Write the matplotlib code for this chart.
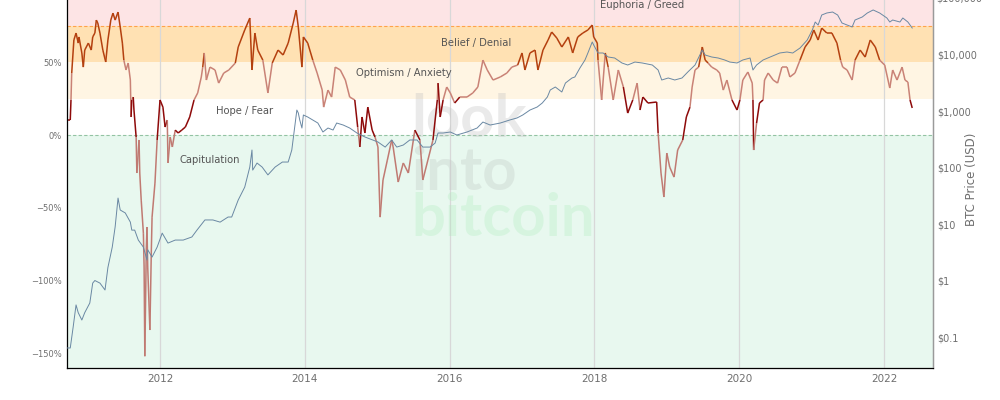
import numpy as np
import matplotlib
matplotlib.use('Agg')
import matplotlib.pyplot as plt
from matplotlib.collections import LineCollection

# NUPL (%); dates as decimal years
nupl_year = [2010.72, 2010.76, 2010.77, 2010.78, 2010.81, 2010.84, 2010.87, 2010.88, 2010.92, 2010.94,
             2010.96, 2011.01, 2011.05, 2011.07, 2011.10, 2011.12, 2011.14, 2011.17, 2011.21, 2011.25,
             2011.28, 2011.32, 2011.35, 2011.38, 2011.42, 2011.45, 2011.48, 2011.50, 2011.53, 2011.56,
             2011.59, 2011.60, 2011.61, 2011.63, 2011.64, 2011.67, 2011.68, 2011.71, 2011.72, 2011.74,
             2011.77, 2011.78, 2011.79, 2011.81, 2011.82, 2011.83, 2011.86, 2011.88, 2011.89, 2011.93,
             2011.96, 2012.00, 2012.04, 2012.07, 2012.10, 2012.11, 2012.14, 2012.17, 2012.21, 2012.25,
             2012.30, 2012.35, 2012.41, 2012.47, 2012.52, 2012.57, 2012.59, 2012.61, 2012.64, 2012.69,
             2012.76, 2012.81, 2012.88, 2012.95, 2013.04, 2013.08, 2013.17, 2013.24, 2013.27, 2013.31,
             2013.35, 2013.42, 2013.49, 2013.55, 2013.63, 2013.70, 2013.77, 2013.84, 2013.88, 2013.91,
             2013.96, 2013.98, 2014.04, 2014.11, 2014.17, 2014.24, 2014.26, 2014.32, 2014.37, 2014.42,
             2014.49, 2014.56, 2014.62, 2014.69, 2014.73, 2014.76, 2014.79, 2014.83, 2014.87, 2014.93,
             2014.97, 2015.01, 2015.04, 2015.08, 2015.14, 2015.20, 2015.22, 2015.29, 2015.36, 2015.43,
             2015.52, 2015.59, 2015.63, 2015.70, 2015.77, 2015.83, 2015.84, 2015.87, 2015.91, 2015.96,
             2016.01, 2016.07, 2016.14, 2016.24, 2016.32, 2016.39, 2016.46, 2016.52, 2016.60, 2016.70,
             2016.79, 2016.86, 2016.94, 2017.00, 2017.04, 2017.11, 2017.18, 2017.22, 2017.29, 2017.36,
             2017.41, 2017.48, 2017.55, 2017.64, 2017.70, 2017.77, 2017.84, 2017.91, 2017.97, 2017.99,
             2018.04, 2018.05, 2018.10, 2018.15, 2018.19, 2018.26, 2018.33, 2018.40, 2018.46, 2018.53,
             2018.59, 2018.63, 2018.67, 2018.74, 2018.86, 2018.88, 2018.92, 2018.96, 2019.00, 2019.04,
             2019.10, 2019.15, 2019.22, 2019.27, 2019.32, 2019.35, 2019.39, 2019.44, 2019.49, 2019.53,
             2019.57, 2019.62, 2019.69, 2019.73, 2019.78, 2019.83, 2019.90, 2019.97, 2020.01, 2020.05,
             2020.12, 2020.18, 2020.19, 2020.20, 2020.24, 2020.28, 2020.33, 2020.35, 2020.40, 2020.47,
             2020.53, 2020.59, 2020.66, 2020.70, 2020.77, 2020.84, 2020.91, 2020.98, 2021.03, 2021.09,
             2021.14, 2021.21, 2021.28, 2021.35, 2021.40, 2021.43, 2021.49, 2021.56, 2021.60, 2021.67,
             2021.74, 2021.81, 2021.88, 2021.94, 2022.01, 2022.08, 2022.12, 2022.18, 2022.25, 2022.29,
             2022.33, 2022.36, 2022.39]
nupl_pct = [10.3, 10.3, 24.1, 42.6, 65.3, 70.1, 63.2, 67.4, 56.4, 46.7,
            58.4, 63.2, 58.4, 67.4, 70.1, 79.0, 77.0, 70.1, 58.4, 50.2,
            65.3, 79.0, 83.8, 79.0, 84.5, 74.2, 63.2, 51.5, 44.7, 49.5,
            37.8, 12.4, 24.1, 26.1, 17.2, -1.4, -26.1, -3.4, -26.1, -44.7,
            -67.4, -90.7, -152.0, -79.0, -63.2, -90.7, -134.0, -79.0, -56.4, -33.0,
            -3.4, 24.1, 19.2, 5.5, 10.3, -19.2, -1.4, -8.2, 3.4, 1.4,
            3.4, 5.5, 12.4, 24.1, 28.9, 39.9, 46.7, 56.4, 37.8, 46.7,
            44.7, 35.7, 42.6, 44.7, 49.5, 60.5, 72.2, 80.4, 44.7, 70.1,
            58.4, 51.5, 28.9, 49.5, 58.4, 55.0, 63.2, 77.0, 85.9, 74.2,
            46.7, 67.4, 63.2, 51.5, 42.6, 30.9, 19.2, 30.9, 26.1, 46.7,
            44.7, 37.8, 26.1, 24.1, 5.5, -8.2, 12.4, 1.4, 19.2, 3.4,
            -1.4, -8.2, -56.4, -30.9, -17.2, -3.4, -8.2, -32.3, -19.2, -26.1,
            3.4, -3.4, -30.9, -17.2, -3.4, 24.1, 35.7, 12.4, 24.1, 33.0,
            28.9, 22.0, 26.1, 26.1, 28.9, 33.0, 51.5, 44.7, 37.8, 39.9,
            42.6, 46.7, 48.1, 56.4, 44.7, 56.4, 58.4, 44.7, 58.4, 65.3,
            70.8, 66.7, 60.5, 67.4, 56.4, 67.4, 70.1, 72.2, 75.6, 67.4,
            63.2, 51.5, 24.1, 56.4, 46.7, 24.1, 44.7, 33.0, 15.1, 24.1,
            35.7, 17.2, 26.1, 22.0, 22.7, 1.4, -26.1, -42.6, -12.4, -22.0,
            -28.9, -10.3, -3.4, 12.4, 19.2, 33.0, 44.7, 46.7, 60.5, 51.5,
            49.5, 46.7, 44.7, 42.6, 30.9, 37.8, 24.1, 17.2, 24.1, 37.8,
            43.3, 35.7, 24.1, -10.3, 8.2, 22.0, 24.1, 37.8, 42.6, 37.8,
            35.7, 46.7, 46.7, 39.9, 42.6, 51.5, 60.5, 65.3, 72.2, 65.3,
            73.5, 70.1, 70.1, 63.2, 51.5, 46.7, 44.7, 37.8, 51.5, 58.4,
            53.6, 65.3, 60.5, 51.5, 48.1, 32.3, 44.7, 37.8, 46.7, 37.8,
            36.4, 24.1, 18.6]

# BTC price (USD)
price_year = [2010.72, 2010.76, 2010.80, 2010.84, 2010.87, 2010.92, 2010.96, 2011.03, 2011.07, 2011.10,
              2011.17, 2011.24, 2011.28, 2011.34, 2011.38, 2011.42, 2011.45, 2011.52, 2011.59, 2011.61,
              2011.65, 2011.70, 2011.77, 2011.82, 2011.83, 2011.89, 2011.96, 2012.03, 2012.11, 2012.21,
              2012.32, 2012.44, 2012.51, 2012.62, 2012.73, 2012.83, 2012.94, 2012.99, 2013.08, 2013.17,
              2013.24, 2013.27, 2013.28, 2013.34, 2013.41, 2013.49, 2013.59, 2013.69, 2013.77, 2013.82,
              2013.85, 2013.89, 2013.91, 2013.93, 2013.96, 2013.98, 2014.04, 2014.11, 2014.18, 2014.25,
              2014.32, 2014.39, 2014.44, 2014.53, 2014.62, 2014.72, 2014.83, 2014.94, 2015.01, 2015.11,
              2015.20, 2015.27, 2015.36, 2015.45, 2015.55, 2015.63, 2015.73, 2015.80, 2015.84, 2015.91,
              2016.01, 2016.10, 2016.24, 2016.38, 2016.46, 2016.56, 2016.70, 2016.83, 2016.93, 2017.01,
              2017.11, 2017.21, 2017.28, 2017.35, 2017.39, 2017.46, 2017.55, 2017.60, 2017.69, 2017.73,
              2017.80, 2017.87, 2017.91, 2017.97, 2017.99, 2018.05, 2018.12, 2018.19, 2018.28, 2018.38,
              2018.46, 2018.56, 2018.66, 2018.80, 2018.88, 2018.93, 2019.02, 2019.11, 2019.21, 2019.29,
              2019.39, 2019.49, 2019.53, 2019.62, 2019.71, 2019.80, 2019.87, 2019.97, 2020.05, 2020.15,
              2020.19, 2020.24, 2020.33, 2020.43, 2020.56, 2020.66, 2020.74, 2020.84, 2020.94, 2021.01,
              2021.05, 2021.09, 2021.14, 2021.21, 2021.29, 2021.36, 2021.42, 2021.49, 2021.56, 2021.60,
              2021.70, 2021.77, 2021.85, 2021.94, 2022.04, 2022.08, 2022.12, 2022.22, 2022.26, 2022.33,
              2022.39]
price_usd = [0.064, 0.064, 0.15, 0.37, 0.27, 0.20, 0.27, 0.40, 0.90, 1.0,
             0.90, 0.68, 1.7, 3.9, 8.9, 28.8, 17.7, 15.7, 10.8, 7.8,
             7.8, 5.2, 3.9, 2.3, 3.5, 2.6, 3.9, 6.9, 4.6, 5.2,
             5.2, 5.9, 7.8, 11.8, 11.8, 10.8, 13.3, 13.3, 26.6, 45,
             102, 204, 90, 120, 102, 74, 102, 125, 125, 204,
             408, 1041, 922, 693, 500, 850, 783, 693, 613, 425,
             500, 461, 613, 565, 500, 408, 347, 307, 283, 230,
             307, 230, 250, 307, 307, 230, 230, 271, 408, 408,
             425, 376, 425, 500, 638, 565, 613, 693, 752, 850,
             1041, 1178, 1386, 1770, 2355, 2660, 2170, 3130, 3840, 4000,
             5770, 8000, 10640, 16650, 14730, 10640, 10640, 9040, 8670, 7080,
             6520, 7360, 7080, 6520, 5320, 3540, 3840, 3540, 3840, 4900,
             6520, 12020, 9800, 9040, 8670, 8000, 7360, 7080, 8000, 8670,
             5320, 6520, 8000, 9040, 10640, 11070, 10640, 13030, 18070, 27150,
             37600, 33230, 50000, 54300, 56500, 50000, 36100, 33230, 30700, 40800,
             46150, 54300, 61400, 54300, 44300, 37600, 40800, 37600, 44300, 37600,
             29450]

zone_labels = ['Euphoria / Greed', 'Belief / Denial', 'Optimism / Anxiety', 'Hope / Fear', 'Capitulation']
zone_label_year = [2018.66, 2016.36, 2015.37, 2013.17, 2012.69]
zone_label_pct = [89.3, 63.2, 42.6, 16.5, -17.2]

year_ticks = [2012, 2014, 2016, 2018, 2020, 2022]
pct_ticks = [50, 0, -50, -100, -150]
price_ticks = [0.1, 1, 10, 100, 1000, 10000]
price_tick_labels = ['$0.1', '$1', '$10', '$100', '$1,000', '$10,000']

grey = '#6f6f6f'
fig = plt.figure(figsize=(10, 4), dpi=100)
ax = fig.add_axes([0.067, 0.08, 0.866, 0.92])
ax.set_xlim(2010.715, 2022.677)
ax.set_ylim(-160.1, 92.8)

# background zones
ax.axhspan(75, 200, color='#fde4e5', lw=0, zorder=0)
ax.axhspan(50, 75, color='#ffe1b3', lw=0, zorder=0)
ax.axhspan(25, 50, color='#fff5e3', lw=0, zorder=0)
ax.axhspan(-200, 0, color='#e8f8ef', lw=0, zorder=0)
ax.axhline(75, color='#ffa24a', lw=0.8, ls=(0, (3, 2)), zorder=1)
ax.axhline(0, color='#93c3a3', lw=0.8, ls=(0, (3, 2)), zorder=1)
for yr in year_ticks:
    ax.axvline(yr, color='#d8d8d8', lw=0.9, zorder=1)

# watermark
wm = dict(fontsize=43, fontweight='bold', family=['Lato', 'DejaVu Sans'], ha='left',
          va='baseline', zorder=1)
ax.text(2015.47, -1.4, 'look', color='#c0c0c0', alpha=0.33, **wm)
ax.text(2015.47, -37.8, 'into', color='#c0c8c4', alpha=0.33, **wm)
ax.text(2015.47, -69.4, 'bitcoin', color='#a8ecb8', alpha=0.28, **wm)

for lab, xx, yy in zip(zone_labels, zone_label_year, zone_label_pct):
    ax.text(xx, yy, lab, ha='center', va='center', fontsize=7.2, color='#555555', zorder=2)

# NUPL line coloured by zone
xs = np.array(nupl_year)
ys = np.array(nupl_pct)
segs = np.stack([np.column_stack([xs[:-1], ys[:-1]]), np.column_stack([xs[1:], ys[1:]])], axis=1)
mid = (ys[:-1] + ys[1:]) / 2
cols = []
for m in mid:
    if m >= 50:
        cols.append('#b4400f')
    elif m >= 25:
        cols.append('#c98276')
    elif m >= 0:
        cols.append('#8e0a0a')
    else:
        cols.append('#c07a72')
ax.add_collection(LineCollection(segs, colors=cols, linewidths=1.1, zorder=3))

ax.set_xticks(year_ticks)
ax.set_xticklabels([str(y) for y in year_ticks], fontsize=7.5, color=grey,
                   family=['Liberation Sans Narrow', 'DejaVu Sans'])
ax.set_yticks(pct_ticks)
ax.set_yticklabels([f'{p}%'.replace('-', '\u2212') for p in pct_ticks], fontsize=6, color=grey)
ax.tick_params(length=0, pad=4)
ax.spines['top'].set_visible(False)
for s in ['left', 'bottom', 'right']:
    ax.spines[s].set_color('#9a9a9a')
    ax.spines[s].set_linewidth(1)

# price on log right axis
ax2 = ax.twinx()
ax2.set_yscale('log')
ax2.set_ylim(0.0283, 92200)
ax2.plot(price_year, price_usd, color='#6a88a3', lw=0.7, zorder=4)
ax2.set_yticks(price_ticks)
ax2.set_yticklabels(price_tick_labels, fontsize=7, color=grey)
ax2.minorticks_off()
ax2.tick_params(length=0, pad=3)
ax2.spines['top'].set_visible(False)
ax2.spines['right'].set_color('#9a9a9a')
ax2.text(1.044, 0.514, 'BTC Price (USD)', transform=ax2.transAxes, rotation=90,
         fontsize=8.5, color=grey, ha='center', va='center')
ax2.text(1.0035, 1e5, '$100,000', transform=ax2.get_yaxis_transform(), fontsize=7,
         color=grey, va='center', ha='left', clip_on=False)

fig.savefig('out.png', dpi=100)
